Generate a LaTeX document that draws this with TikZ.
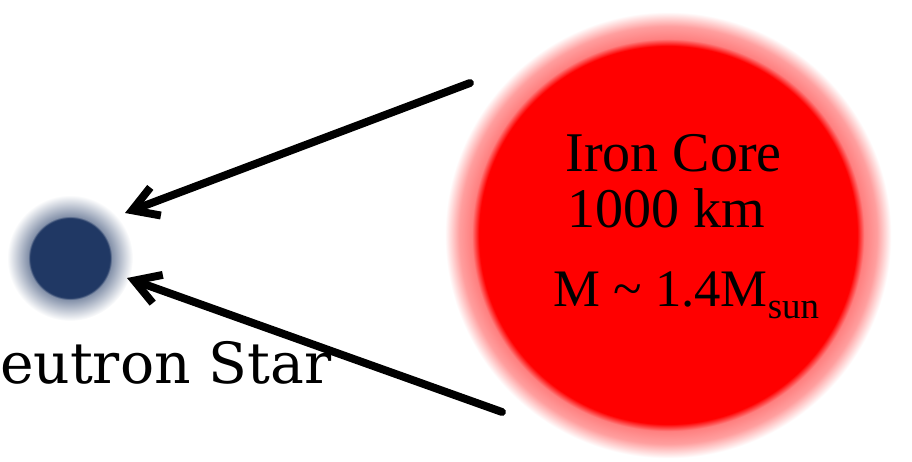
\documentclass[tikz,border=0pt]{standalone}
\usepackage{fontspec}
\setmainfont{Liberation Serif}
\newfontfamily\starfont{DejaVu Serif}
\usetikzlibrary{arrows.meta}

\definecolor{nsblue}{RGB}{32,56,100}
% soft glows round the two stars
\pgfdeclareradialshading{coreglow}{\pgfpoint{0bp}{0bp}}{%
  color(0bp)=(red); color(21bp)=(red); color(21.8bp)=(red!50);
  color(23.2bp)=(red!38); color(24.8bp)=(white); color(50bp)=(white)}
\pgfdeclareradialshading{nsglow}{\pgfpoint{0bp}{0bp}}{%
  color(0bp)=(nsblue); color(15.8bp)=(nsblue); color(16.6bp)=(nsblue!55);
  color(25bp)=(white); color(50bp)=(white)}

\begin{document}
\begin{tikzpicture}[x=0.02cm, y=-0.02cm,
  arr/.style = {line width=4.5pt, line cap=round,
                -{Straight Barb[length=0.5cm, width=0.6cm]}},
  lbl/.style = {anchor=base west, inner sep=0pt,
                font=\fontsize{31.9}{36}\selectfont},
]
\useasboundingbox (0,0) rectangle (912,462);

\node[circle, inner sep=0pt, minimum size=9cm, shading=coreglow] (core) at (668,235) {};
\node[circle, inner sep=0pt, minimum size=2.52cm, shading=nsglow] (ns) at (70,258) {};

\node[lbl] (corename) at (565,172) {Iron Core};
\node[lbl] (coresize) at (567,228) {1000 km};
\node[lbl, font=\fontsize{30}{34}\selectfont] (coremass) at (553,307)
  {M \char"7E{} 1.4M\raisebox{-6.3pt}{\fontsize{21}{21}\selectfont sun}};

\node[anchor=base west, inner sep=0pt, font=\starfont\fontsize{32.3}{36}\selectfont]
  (nslabel) at (-50,383) {Neutron Star};

\coordinate (upstart) at (470,83);
\coordinate (upend) at (125,213);
\coordinate (lostart) at (502,412);
\coordinate (loend) at (127,278);
\draw[arr] (upstart) -- (upend);
\draw[arr] (lostart) -- (loend);

\end{tikzpicture}
\end{document}
